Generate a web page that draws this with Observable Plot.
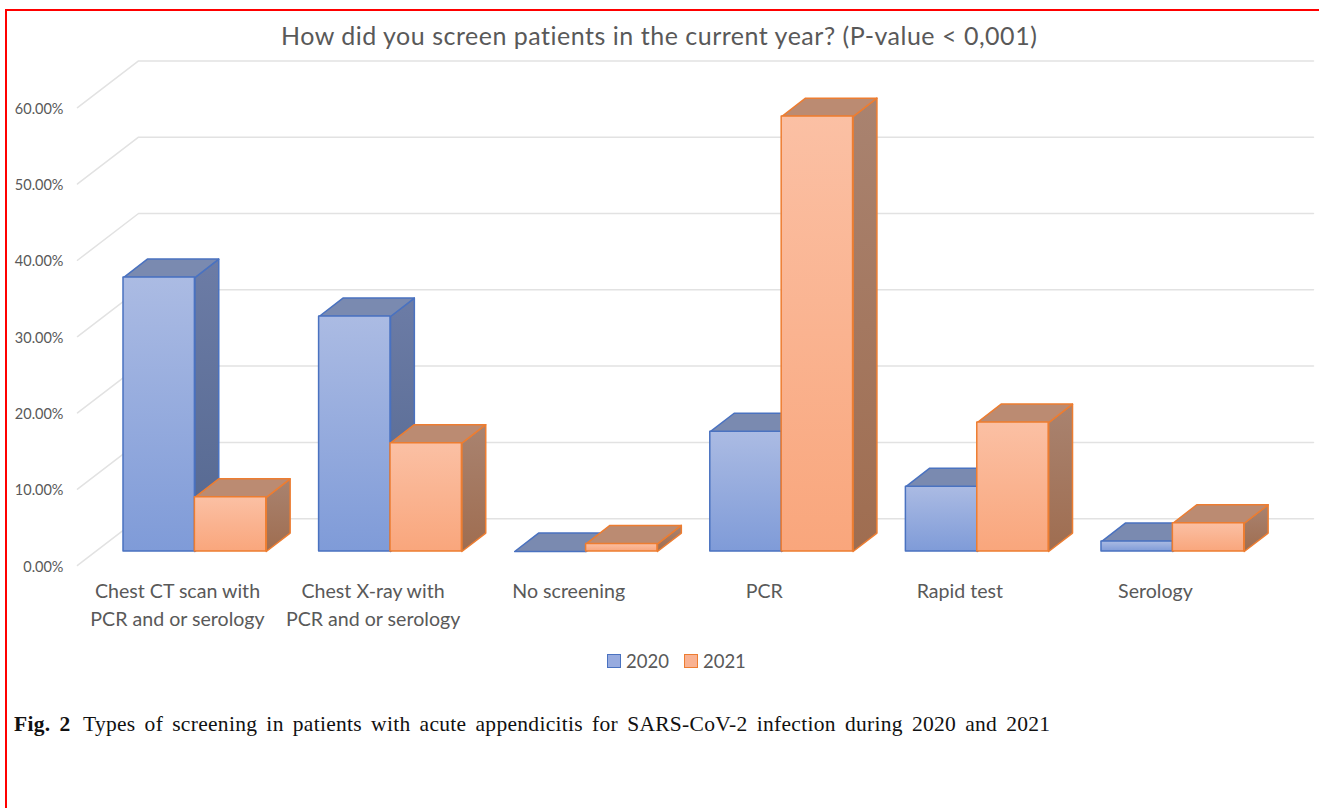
<!DOCTYPE html>
<html><head><meta charset="utf-8">
<script src="https://cdn.jsdelivr.net/npm/d3@7"></script>
<script src="https://cdn.jsdelivr.net/npm/@observablehq/plot@0.6"></script>
<style>
html,body{margin:0;padding:0;background:#fff;overflow:hidden}
body{width:1319px;height:808px;position:relative;font-family:Lato,sans-serif}
#frame{position:absolute;left:5px;top:9px;right:0;bottom:-5px;border-left:2px solid #f00;border-top:2px solid #f00;pointer-events:none}
#title{height:52px;box-sizing:border-box;padding:19px 0 0 281px;font-size:25px;line-height:32px;color:#595959;letter-spacing:.51px;white-space:nowrap}
#legend{position:absolute;top:648px;left:607px;display:flex;align-items:center;height:26px;font-size:18.5px;color:#595959}
#legend i{display:block;width:12px;height:12px;margin-right:5px;border:1px solid}
#legend span{margin-right:15px}
#caption{position:absolute;top:712px;left:14px;width:1060px;font:21.5px/24px "Liberation Serif",serif;color:#111;white-space:nowrap;letter-spacing:.3px;word-spacing:3.4px}
#caption b{display:inline-block;width:69px}
</style></head>
<body>
<div id="frame"></div>
<div id="title">How did you screen patients in the current year? (P-value &lt; 0,001)</div>
<div id="chart"></div>
<div id="legend"></div>
<div id="caption"><b>Fig. 2</b>Types of screening in patients with acute appendicitis for SARS-CoV-2 infection during 2020 and 2021</div>
<script>
const categories = ["Chest CT scan with\nPCR and or serology", "Chest X-ray with\nPCR and or serology", "No screening", "PCR", "Rapid test", "Serology"];
const values2020 = [35.9, 30.8, 0, 15.7, 8.5, 1.3];
const values2021 = [7.1, 14.2, 1.0, 57.0, 16.9, 3.7];
const seriesNames = ["2020", "2021"];
const yTicks = [0, 10, 20, 30, 40, 50, 60];

const W = 1319, H = 588, barW = 0.365;
const depthX = 0.122, depthY = 2.42;      // bar depth in data units
const wallX = 0.312, wallY = 6.13;        // chart floor depth
const frontX = -0.2352, frontY = -1.83;   // front end of the floor
const backX = frontX + wallX;

const palette = [
  {id: "b", stroke: "#4a72c0", swatch: "#97abdf", face: ["#abbbe3", "#7f9bd8"], side: ["#6c7ca6", "#54678f"], top: "#7a8ab0"},
  {id: "o", stroke: "#ed7d31", swatch: "#f9b292", face: ["#fbc0a4", "#f9a67c"], side: ["#a98370", "#9f6d50"], top: "#bb8b72"}
];

function defs() {
  const ns = "http://www.w3.org/2000/svg";
  const d = document.createElementNS(ns, "defs");
  for (const p of palette) for (const k of ["face", "side"]) {
    const g = document.createElementNS(ns, "linearGradient");
    g.setAttribute("id", p.id + k);
    g.setAttribute("x1", 0); g.setAttribute("x2", 0); g.setAttribute("y1", 0); g.setAttribute("y2", 1);
    p[k].forEach((c, i) => {
      const s = document.createElementNS(ns, "stop");
      s.setAttribute("offset", i); s.setAttribute("stop-color", c);
      g.appendChild(s);
    });
    d.appendChild(g);
  }
  return d;
}

const gridRows = yTicks.flatMap(v => [
  {v, x: frontX, y: v + frontY},
  {v, x: backX, y: v + frontY + wallY},
  {v, x: 6.084, y: v + frontY + wallY}
]);

function seriesMarks(vals, s) {
  const p = palette[s];
  const left = i => i + s * barW;
  const right = i => left(i) + barW;
  const bars = vals.map((v, i) => ({i, v, l: left(i), r: right(i)}));
  const top = bars.flatMap(b => [[b.l, b.v], [b.r, b.v], [b.r + depthX, b.v + depthY], [b.l + depthX, b.v + depthY], [b.l, b.v]].map(([x, y]) => ({i: b.i, x, y})));
  const side = bars.flatMap(b => [[b.r, 0], [b.r, b.v], [b.r + depthX, b.v + depthY], [b.r + depthX, depthY], [b.r, 0]].map(([x, y]) => ({i: b.i, x, y})));
  const common = {stroke: p.stroke, strokeWidth: 1.5, strokeLinejoin: "round"};
  return [
    Plot.line(side, {x: "x", y: "y", z: "i", fill: `url(#${p.id}side)`, ...common}),
    Plot.line(top, {x: "x", y: "y", z: "i", fill: p.top, ...common}),
    Plot.rect(bars, {x1: "l", x2: "r", y1: 0, y2: "v", fill: `url(#${p.id}face)`, ...common})
  ];
}

const chart = Plot.plot({
  width: W, height: H,
  marginLeft: 77, marginRight: 6, marginTop: 0, marginBottom: 60,
  style: {background: "transparent", overflow: "visible"},
  x: {domain: [frontX, 6.084]},
  y: {domain: [-3.80, 65.4]},
  marks: [
    defs,
    Plot.line(gridRows, {x: "x", y: "y", z: "v", stroke: "#e2e2e2", strokeWidth: 1.5}),
    ...seriesMarks(values2020, 0),
    ...seriesMarks(values2021, 1),
    Plot.axisY({ticks: yTicks, tickSize: 0, tickPadding: 14, dy: 15.5, label: null,
      tickFormat: d => d.toFixed(2) + "%", fontSize: 14.5, fontFamily: "Lato, sans-serif", fill: "#595959"}),
    Plot.axisX({ticks: categories.map((c, i) => i + 0.276), tickSize: 0, tickPadding: -2, label: null,
      tickFormat: d => categories[Math.round(d - 0.276)], fontSize: 19.6, lineHeight: 1.43,
      fontFamily: "Lato, sans-serif", fill: "#595959", textOverflow: null})
  ]
});
document.getElementById("chart").appendChild(chart);

const legend = document.getElementById("legend");
seriesNames.forEach((n, s) => {
  const i = document.createElement("i");
  i.style.background = palette[s].swatch;
  i.style.borderColor = palette[s].stroke;
  const t = document.createElement("span");
  t.textContent = n;
  legend.append(i, t);
});
</script>
</body></html>
